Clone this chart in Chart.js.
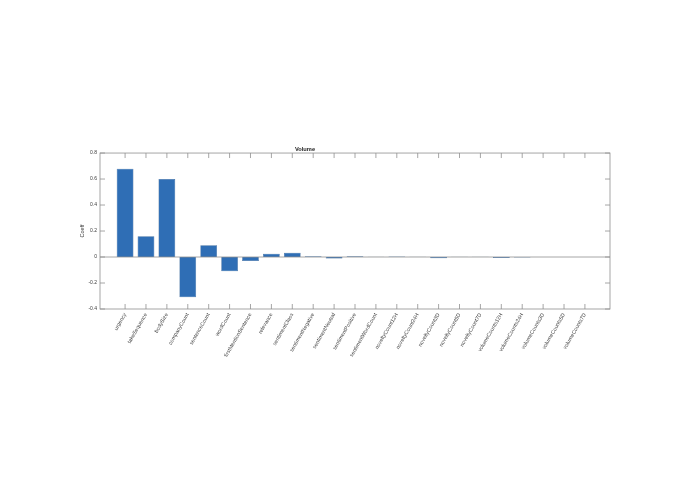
<!DOCTYPE html>
<html>
<head>
<meta charset="utf-8">
<title>Volume</title>
<script src="https://cdn.jsdelivr.net/npm/chart.js@4.4.0/dist/chart.umd.min.js"></script>
<style>
    html, body { margin: 0; padding: 0; background: #fff; }
    #wrap { position: relative; width: 695px; height: 494px; }
</style>
</head>
<body>
<div id="wrap"><canvas id="coeffChart"></canvas></div>
<script>
// Chart data
const categories = [
    'urgency', 'takeSequence', 'bodySize', 'companyCount', 'sentenceCount',
    'wordCount', 'firstMentionSentence', 'relevance', 'sentimentClass',
    'sentimentNegative', 'sentimentNeutral', 'sentimentPositive',
    'sentimentWordCount', 'noveltyCount12H', 'noveltyCount24H', 'noveltyCount3D',
    'noveltyCount5D', 'noveltyCount7D', 'volumeCounts12H', 'volumeCounts24H',
    'volumeCounts3D', 'volumeCounts5D', 'volumeCounts7D'
];
const coeffValues = [
    0.68, 0.16, 0.60, -0.31, 0.09,
    -0.11, -0.03, 0.026, 0.033,
    0.006, -0.012, 0.005,
    0.002, 0.003, 0.002, -0.010,
    0.002, 0.002, -0.008, -0.004,
    0.001, 0.001, 0.001
];
const yTickLabels = ['-0.4', '-0.2', '0', '0.2', '0.4', '0.6', '0.8'];
const yMin = -0.4;
const yMax = 0.8;
const yStep = 0.2;
// x limits as MATLAB picked them (bars sit at 1..23)
const xMin = -0.2;
const xMax = 24.2;

const axisColor = '#8f8f8f';
const textColor = '#3a3a3a';
const fontFamily = '"Liberation Sans", Arial, Helvetica, sans-serif';

const barPoints = coeffValues.map((v, i) => ({ x: i + 1, y: v }));

/**
 * Draws the axes box, the zero baseline and inward tick marks
 */
const matlabAxes = {
    id: 'matlabAxes',
    afterDatasetsDraw(chart) {
        const ctx = chart.ctx;
        const area = chart.chartArea;
        const x = chart.scales.x;
        const y = chart.scales.y;
        const tickLen = 5;

        ctx.save();
        ctx.strokeStyle = axisColor;
        ctx.lineWidth = 0.8;

        // baseline at zero
        const y0 = y.getPixelForValue(0);
        ctx.beginPath();
        ctx.moveTo(area.left, y0);
        ctx.lineTo(area.right, y0);
        ctx.stroke();

        // box
        ctx.strokeRect(area.left, area.top, area.right - area.left, area.bottom - area.top);

        // x ticks, top and bottom
        ctx.beginPath();
        x.ticks.forEach(t => {
            const px = x.getPixelForValue(t.value);
            ctx.moveTo(px, area.bottom);
            ctx.lineTo(px, area.bottom - tickLen);
            ctx.moveTo(px, area.top);
            ctx.lineTo(px, area.top + tickLen);
        });
        // y ticks, left and right
        y.ticks.forEach(t => {
            const py = y.getPixelForValue(t.value);
            ctx.moveTo(area.left, py);
            ctx.lineTo(area.left + tickLen, py);
            ctx.moveTo(area.right, py);
            ctx.lineTo(area.right - tickLen, py);
        });
        ctx.stroke();
        ctx.restore();
    }
};

document.addEventListener('DOMContentLoaded', function() {
    const ctx = document.getElementById('coeffChart').getContext('2d');

    new Chart(ctx, {
        type: 'bar',
        data: {
            datasets: [{
                label: 'Coeff',
                data: barPoints,
                backgroundColor: '#2f6eb5',
                borderColor: '#1f4f86',
                borderWidth: 0.5,
                barPercentage: 0.8,
                categoryPercentage: 1.0
            }]
        },
        options: {
            responsive: true,
            maintainAspectRatio: false,
            animation: false,
            layout: {
                padding: { left: 0, right: 85, top: 0, bottom: 0 }
            },
            plugins: {
                legend: { display: false },
                tooltip: { enabled: false },
                title: {
                    display: true,
                    text: 'Volume',
                    color: '#1a1a1a',
                    font: { family: fontFamily, size: 5.7, weight: 'bold', lineHeight: 1.2 },
                    padding: { top: 145.8, bottom: 0.4 }
                }
            },
            scales: {
                x: {
                    type: 'linear',
                    min: xMin,
                    max: xMax,
                    offset: false,
                    grid: { display: false, drawTicks: false },
                    border: { display: false },
                    afterBuildTicks: function(scale) {
                        scale.ticks = categories.map((_, i) => ({ value: i + 1 }));
                    },
                    ticks: {
                        autoSkip: false,
                        minRotation: 60,
                        maxRotation: 60,
                        padding: 3,
                        color: textColor,
                        font: { family: fontFamily, size: 5.3 },
                        callback: function(value) {
                            return categories[Math.round(value) - 1] || '';
                        }
                    },
                    afterFit: function(scale) {
                        scale.height = 185;
                    }
                },
                y: {
                    min: yMin,
                    max: yMax,
                    grid: { display: false, drawTicks: false },
                    border: { display: false },
                    ticks: {
                        stepSize: yStep,
                        padding: 3,
                        color: textColor,
                        font: { family: fontFamily, size: 5 },
                        callback: function(value) {
                            const idx = Math.round((value - yMin) / yStep);
                            return yTickLabels[idx];
                        }
                    },
                    title: {
                        display: true,
                        text: 'Coeff',
                        color: textColor,
                        font: { family: fontFamily, size: 5.5, lineHeight: 1.2 },
                        padding: { top: 78.7, bottom: 0 }
                    },
                    afterFit: function(scale) {
                        scale.width = 100;
                    }
                }
            }
        },
        plugins: [matlabAxes]
    });
});
</script>
</body>
</html>
